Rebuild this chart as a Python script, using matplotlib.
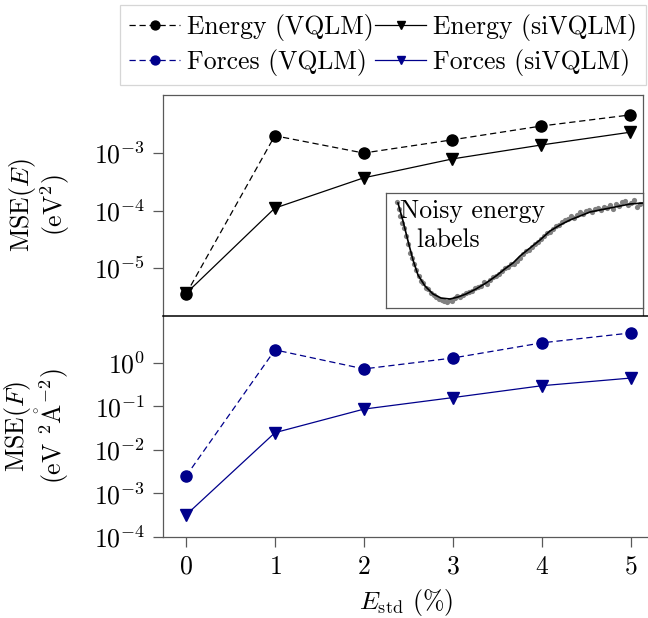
import numpy as np
import matplotlib
matplotlib.use("Agg")
import matplotlib.pyplot as plt

plt.rcParams['font.family'] = ['cmr10', 'DejaVu Serif']
plt.rcParams['mathtext.fontset'] = 'cm'
plt.rcParams['axes.formatter.use_mathtext'] = True
plt.rcParams['font.size'] = 18.5

# noise level (%)
e_std = [0, 1, 2, 3, 4, 5]

# MSE of energies (eV^2)
energy_vqlm = [3.5e-6, 2.0e-3, 1.0e-3, 1.7e-3, 2.95e-3, 4.6e-3]
energy_sivqlm = [3.6e-6, 1.1e-4, 3.7e-4, 7.9e-4, 1.38e-3, 2.3e-3]

# MSE of forces (eV^2 A^-2)
forces_vqlm = [2.5e-3, 2.0, 0.73, 1.3, 2.9, 4.9]
forces_sivqlm = [3.2e-4, 0.025, 0.087, 0.16, 0.30, 0.45]

# inset: reference potential curve and noisy labels (arbitrary units)
curve_x = [12, 17, 22, 27, 32, 39, 47, 55, 64, 72, 80, 90, 100, 110, 120, 127,
           134, 144, 154, 164, 174, 184, 194, 204, 214, 224, 234, 244, 257]
curve_y = [105, 87, 67, 48, 33, 22, 14, 10, 9, 11, 14, 19, 25, 32, 40, 45,
           52, 60, 68, 77, 83, 88, 92, 96, 98, 100, 102, 104, 105]
noisy_x = [11, 13, 14, 16, 18, 20, 22, 24, 26, 28, 30, 33, 35, 37, 40, 42, 45, 48,
           50, 53, 56, 58, 61, 64, 66, 69, 71, 74, 77, 80, 83, 86, 89, 92, 95, 98,
           101, 104, 107, 110, 113, 116, 119, 122, 125, 128, 131, 134, 137, 140,
           143, 146, 149, 152, 155, 158, 161, 164, 167, 170, 173, 176, 179, 182,
           185, 188, 191, 194, 197, 200, 203, 206, 209, 212, 215, 218, 221, 224,
           227, 230, 233, 236, 239, 242, 245, 248, 251, 254]
noisy_y = [106, 99, 92, 85, 80, 72, 64, 55, 50, 44, 38, 32, 27, 25, 20, 19, 15, 13,
           11, 9, 8, 7, 6, 8, 7, 10, 12, 11, 13, 15, 16, 17, 20, 21, 22, 26,
           24, 28, 31, 32, 34, 37, 40, 41, 44, 44, 47, 50, 54, 57,
           58, 61, 64, 66, 69, 72, 75, 76, 79, 82, 83, 86, 88, 89,
           92, 90, 93, 96, 94, 97, 98, 96, 99, 100, 98, 101, 100, 103,
           99, 104, 102, 106, 107, 103, 105, 108, 101, 104]

energy_col = 'black'
forces_col = '#00008b'

fig = plt.figure(figsize=(6.48, 6.18), dpi=100)
ax1 = fig.add_axes([163 / 648, 0.4887, 480 / 648, 0.3576])
ax2 = fig.add_axes([163 / 648, 0.1311, 486 / 648, 0.3576])

l1, = ax1.plot(e_std, energy_vqlm, color=energy_col, marker='o', ms=8, lw=0.9,
               dashes=(5, 3), label='Energy (VQLM)')
l2, = ax1.plot(e_std, energy_sivqlm, color=energy_col, marker='v', ms=8, lw=0.9,
               label='Energy (siVQLM)')
l3, = ax2.plot(e_std, forces_vqlm, color=forces_col, marker='o', ms=8, lw=0.9,
               dashes=(5, 3), label='Forces (VQLM)')
l4, = ax2.plot(e_std, forces_sivqlm, color=forces_col, marker='v', ms=8, lw=0.9,
               label='Forces (siVQLM)')

for ax in (ax1, ax2):
    ax.set_yscale('log')
    ax.minorticks_off()
    ax.tick_params(direction='out', length=7, pad=6, color='0.35', width=0.9)
    for s in ax.spines.values():
        s.set_color('0.35')
        s.set_linewidth(0.9)
    ax.yaxis.set_label_coords(-0.19, 0.5)

ax1.set_xlim(-0.259, 5.146)
ax1.set_ylim(10**-5.835, 10**-1.99)
ax1.set_yticks([1e-5, 1e-4, 1e-3])
ax1.tick_params(axis='x', bottom=False, labelbottom=False)
ax1.spines['bottom'].set_visible(False)

ax2.set_xlim(-0.259, 5.205)
ax2.set_ylim(1e-4, 10**1.08)
ax2.set_yticks([1e-4, 1e-3, 1e-2, 1e-1, 1e0])
ax2.set_xticks(e_std)
ax2.spines['top'].set_color('black')
ax2.spines['top'].set_linewidth(1.1)
ax2.spines['right'].set_visible(False)

ax1.set_ylabel('MSE($E$)\n(eV$^2$)', linespacing=1.0)
ax2.set_ylabel('MSE($F$)\n(eV $^2\\mathring{\\mathrm{A}}^{-2}$)', linespacing=1.0)
ax2.set_xlabel(r'$E_{\mathrm{std}}$ (%)', labelpad=6)

# inset with the noisy labels
axin = fig.add_axes([386 / 648, 0.5016, 257 / 648, 0.1861])
axin.scatter(noisy_x, noisy_y, s=14, color='gray', zorder=2, linewidths=0)
axin.plot(curve_x, curve_y, color='black', lw=1.2, zorder=3)
axin.set_xlim(0, 257)
axin.set_ylim(0, 115)
axin.set_xticks([])
axin.set_yticks([])
for s in axin.spines.values():
    s.set_color('0.35')
    s.set_linewidth(0.9)
axin.text(14, 109, 'Noisy energy\n  labels', va='top', ha='left', linespacing=1.3)

leg = fig.legend(handles=[l1, l3, l2, l4], ncol=2, loc='upper left',
                 bbox_to_anchor=(120 / 648, 1 - 5 / 618), frameon=True,
                 fancybox=False, edgecolor='0.8', handlelength=2.0,
                 handletextpad=0.25, columnspacing=0.05, labelspacing=0.3,
                 borderpad=0.35, borderaxespad=0.0, markerscale=0.8)
leg.get_frame().set_linewidth(0.9)

fig.savefig('out.png', dpi=100)
